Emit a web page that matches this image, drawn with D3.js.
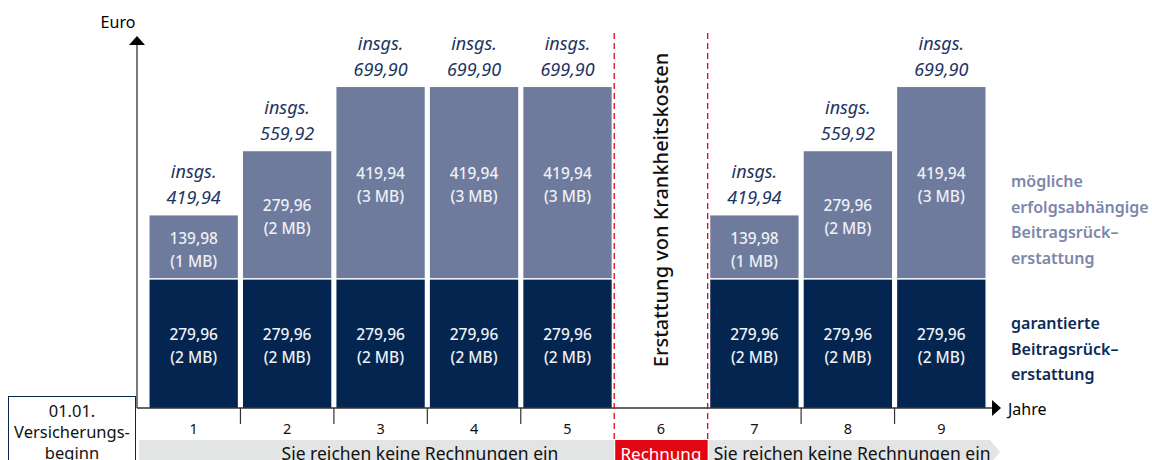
<!DOCTYPE html>
<html>
<head>
<meta charset="utf-8">
<script src="https://cdn.jsdelivr.net/npm/d3@7"></script>
<style>
  body { margin: 0; background: #fff; }
  svg { font-family: "Noto Sans", "Open Sans", sans-serif; }
</style>
</head>
<body>
<svg id="chart" width="1152" height="460"></svg>
<script>
const years = [1, 2, 3, 4, 5, 6, 7, 8, 9];
const guaranteed = [279.96, 279.96, 279.96, 279.96, 279.96, 0, 279.96, 279.96, 279.96];
const guaranteedMB = [2, 2, 2, 2, 2, 0, 2, 2, 2];
const possible = [139.98, 279.96, 419.94, 419.94, 419.94, 0, 139.98, 279.96, 419.94];
const possibleMB = [1, 2, 3, 3, 3, 0, 1, 2, 3];
const totals = ["419,94", "559,92", "699,90", "699,90", "699,90", "", "419,94", "559,92", "699,90"];
const claimYear = 6;
const legendPossible = ["mögliche", "erfolgsabhängige", "Beitragsrück–", "erstattung"];
const legendGuaranteed = ["garantierte", "Beitragsrück–", "erstattung"];

const DARK = "#03254f";
const LIGHT = "#6f7b9d";
const RED = "#e30613";

const svg = d3.select("#chart");
const fmt = v => v.toFixed(2).replace(".", ",");

const x = d3.scaleBand().domain(years).range([147, 988]).paddingInner(0.055).paddingOuter(0.027);
const slot = d3.scaleBand().domain(years).range([147, 988]);
const y = d3.scaleLinear().domain([0, 700]).range([408, 87]);

const data = years.map((yr, i) => ({
  yr, g: guaranteed[i], gmb: guaranteedMB[i], p: possible[i], pmb: possibleMB[i], total: totals[i]
})).filter(d => d.g > 0);

// bars
const bars = svg.append("g").selectAll("g").data(data).join("g");
bars.append("rect")
  .attr("x", d => x(d.yr)).attr("width", x.bandwidth())
  .attr("y", d => y(d.g)).attr("height", d => y(0) - y(d.g))
  .attr("fill", DARK);
bars.append("rect")
  .attr("x", d => x(d.yr)).attr("width", x.bandwidth())
  .attr("y", d => y(d.g + d.p)).attr("height", d => y(d.g) - y(d.g + d.p) - 1.5)
  .attr("fill", LIGHT);

function twoLines(sel, cy, l1, l2, color) {
  const t = sel.append("text").attr("text-anchor", "middle").attr("fill", color)
    .attr("font-size", 15.5).attr("font-weight", 500);
  t.append("tspan").attr("x", d => x(d.yr) + x.bandwidth() / 2).attr("y", d => cy(d) - 4).text(l1);
  t.append("tspan").attr("x", d => x(d.yr) + x.bandwidth() / 2).attr("y", d => cy(d) + 19).text(l2);
}
twoLines(bars, d => (y(d.g) + y(0)) / 2, d => fmt(d.g), d => `(${d.gmb} MB)`, "#eef0f5");
twoLines(bars, d => (y(d.g + d.p) + y(d.g)) / 2, d => fmt(d.p), d => `(${d.pmb} MB)`, "#eef0f5");

// totals above
const tot = bars.append("text").attr("text-anchor", "middle").attr("fill", "#1d3461")
  .attr("font-size", 18).attr("font-style", "italic");
tot.append("tspan").attr("x", d => x(d.yr) + x.bandwidth() / 2).attr("y", d => y(d.g + d.p) - 37).text("insgs.");
tot.append("tspan").attr("x", d => x(d.yr) + x.bandwidth() / 2).attr("y", d => y(d.g + d.p) - 11).text(d => d.total);

// axes
svg.append("line").attr("x1", 137).attr("x2", 137).attr("y1", y(0)).attr("y2", 44)
  .attr("stroke", "#333").attr("stroke-width", 1.3);
svg.append("path").attr("d", "M129,45 L145,45 L137,36 Z").attr("fill", "#000");
svg.append("text").attr("x", 118).attr("y", 28).attr("text-anchor", "middle").attr("font-size", 16).text("Euro");

svg.append("line").attr("x1", 137).attr("x2", 992).attr("y1", y(0)).attr("y2", y(0))
  .attr("stroke", "#333").attr("stroke-width", 1.3);
svg.append("path").attr("d", `M992,${y(0) - 8} L1001,${y(0)} L992,${y(0) + 8} Z`).attr("fill", "#000");
svg.append("text").attr("x", 1008).attr("y", y(0) + 7).attr("font-size", 16).text("Jahre");

// ticks at slot boundaries
const bounds = years.slice(0, -1).filter(yr => yr !== claimYear - 1 && yr !== claimYear);
svg.append("g").selectAll("line").data(bounds).join("line")
  .attr("x1", d => slot(d) + slot.bandwidth()).attr("x2", d => slot(d) + slot.bandwidth())
  .attr("y1", y(0)).attr("y2", y(0) + 16).attr("stroke", "#333").attr("stroke-width", 1.2);
svg.append("g").selectAll("text").data(years).join("text")
  .attr("x", d => slot(d) + slot.bandwidth() / 2).attr("y", 434)
  .attr("text-anchor", "middle").attr("font-size", 14.5).attr("fill", "#111").text(d => d);

// claim year dashed lines
[slot(claimYear), slot(claimYear) + slot.bandwidth()].forEach(px => {
  svg.append("line").attr("x1", px).attr("x2", px).attr("y1", 33).attr("y2", 441)
    .attr("stroke", RED).attr("stroke-width", 1.3).attr("stroke-dasharray", "6,4");
});
svg.append("text")
  .attr("transform", `translate(${slot(claimYear) + slot.bandwidth() / 2 + 7},210) rotate(-90)`)
  .attr("text-anchor", "middle").attr("font-size", 20).attr("font-weight", 500).attr("fill", "#111")
  .text("Erstattung von Krankheitskosten");

// bottom band
const bandY = 440;
const cx0 = slot(claimYear), cx1 = slot(claimYear) + slot.bandwidth();
svg.append("path").attr("d", `M139,${bandY} L${cx0},${bandY} L${cx0},460 L139,460 Z`).attr("fill", "#e3e4e4");
svg.append("path").attr("d", `M${cx1 + 1},${bandY} L990,${bandY} L1000,452 L990,464 L${cx1 + 1},464 Z`).attr("fill", "#e3e4e4");
svg.append("rect").attr("x", cx0 + 1).attr("y", bandY).attr("width", cx1 - cx0 - 1).attr("height", 24).attr("fill", RED);
svg.append("text").attr("x", 420).attr("y", 460).attr("text-anchor", "middle")
  .attr("font-size", 17.5).attr("fill", "#111").text("Sie reichen keine Rechnungen ein");
svg.append("text").attr("x", (cx0 + cx1) / 2).attr("y", 460).attr("text-anchor", "middle")
  .attr("font-size", 17).attr("fill", "#fff").text("Rechnung");
svg.append("text").attr("x", cx1 + 6).attr("y", 460)
  .attr("font-size", 17.5).attr("fill", "#111").text("Sie reichen keine Rechnungen ein");

// start box
svg.append("rect").attr("x", 8.5).attr("y", 396.5).attr("width", 127).attr("height", 70)
  .attr("fill", "#fff").attr("stroke", DARK).attr("stroke-width", 1);
const sb = svg.append("text").attr("text-anchor", "middle").attr("font-size", 16.5).attr("fill", "#111");
["01.01.", "Versicherungs-", "beginn"].forEach((t, i) => sb.append("tspan").attr("x", 72).attr("y", 417 + i * 21).text(t));

// legend
const lp = svg.append("text").attr("font-size", 16).attr("font-weight", 600).attr("fill", "#7c87a8");
legendPossible.forEach((t, i) => lp.append("tspan").attr("x", 1011).attr("y", 187 + i * 25.5).text(t));
const lg = svg.append("text").attr("font-size", 16).attr("font-weight", 600).attr("fill", "#0b2a55");
legendGuaranteed.forEach((t, i) => lg.append("tspan").attr("x", 1011).attr("y", 329 + i * 25.5).text(t));
</script>
</body>
</html>
